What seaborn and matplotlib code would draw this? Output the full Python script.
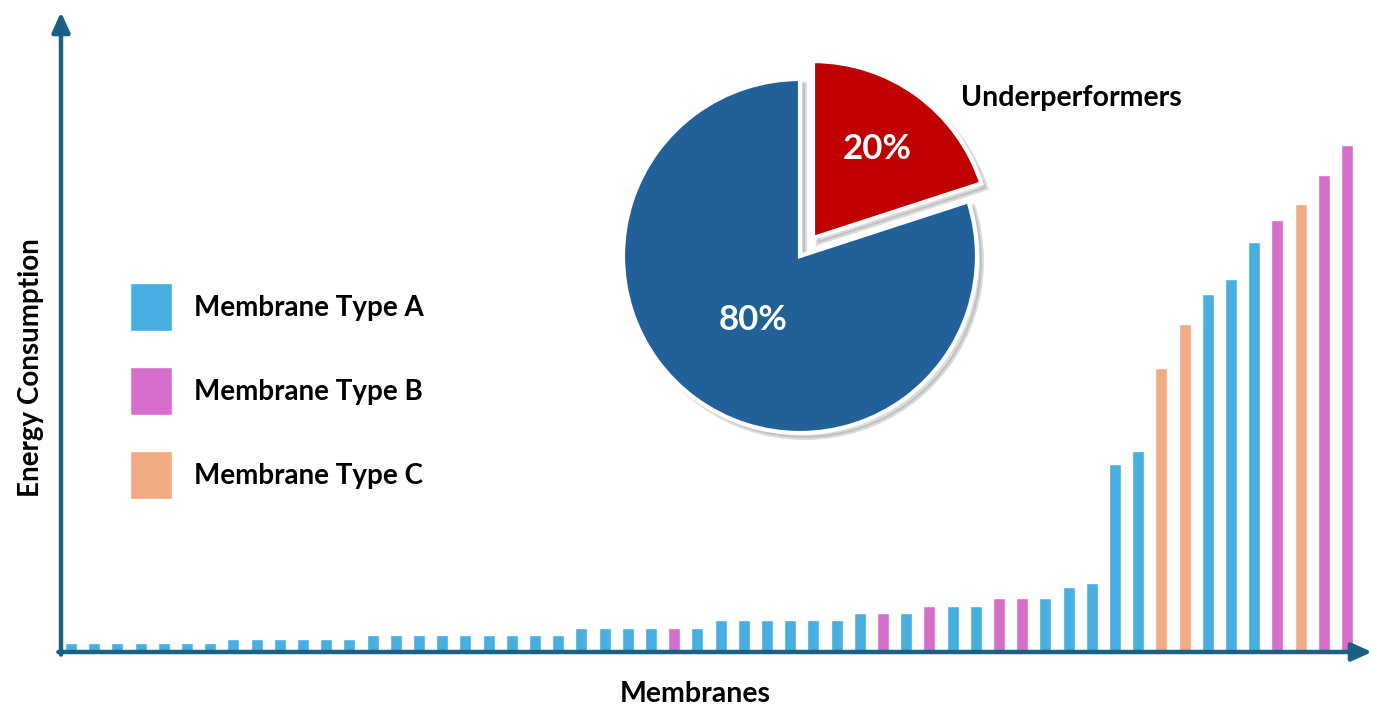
import matplotlib.pyplot as plt
import numpy as np
import pandas as pd
import seaborn as sns

# bar heights (energy consumption, arbitrary units) per membrane, sorted
heights = [
    9, 9, 9, 9, 9, 9, 9,
    13, 13, 13, 13, 13, 13,
    17, 17, 17, 17, 17, 17, 17, 17, 17,
    24, 24, 24, 24, 24, 24,
    32, 32, 32, 32, 32, 32,
    39, 39, 39,
    46, 46, 46,
    54, 54, 54,
    65, 69,
    188, 201, 284, 328, 358, 373, 410, 432, 448, 477, 507,
]
types = [
    "A", "A", "A", "A", "A", "A", "A",
    "A", "A", "A", "A", "A", "A",
    "A", "A", "A", "A", "A", "A", "A", "A", "A",
    "A", "A", "A", "A", "B", "A",
    "A", "A", "A", "A", "A", "A",
    "A", "B", "A",
    "B", "A", "A",
    "B", "B", "A",
    "A", "A",
    "A", "A", "C", "C", "A", "A", "A", "B", "C", "B", "B",
]
type_labels = {"A": "Membrane Type A", "B": "Membrane Type B", "C": "Membrane Type C"}
pie_values = [20, 80]
pie_labels = ["Underperformers", "Others"]

AXIS_COLOR = "#1B6185"
PALETTE = {"Membrane Type A": "#47B0E0", "Membrane Type B": "#D66FCB", "Membrane Type C": "#F1AB85"}
FONT = ["Lato", "DejaVu Sans"]

sns.set_theme(style="white")
plt.rcParams["font.family"] = FONT

data = pd.DataFrame({
    "membrane": [str(i) for i in range(len(heights))],
    "energy": heights,
    "type": [type_labels[t] for t in types],
})

W, H = 1373, 707
fig = plt.figure(figsize=(W / 100, H / 100), dpi=100)
ax = fig.add_axes([61 / W, (H - 652) / H, (1372 - 61) / W, 640 / H])

sns.barplot(data=data, x="membrane", y="energy", hue="type",
            hue_order=list(PALETTE), palette=PALETTE, dodge=False,
            width=0.52, saturation=1, ax=ax)
ax.set_xlim(-0.43, 56.08)
ax.set_ylim(0, 640)
ax.set_xticks([])
ax.set_yticks([])
for s in ax.spines.values():
    s.set_visible(False)

# axis arrows
arrow = dict(arrowstyle="-|>,head_width=0.45,head_length=1.0", lw=3.2,
             color=AXIS_COLOR, mutation_scale=12, shrinkA=0, shrinkB=0)
ax.annotate("", xy=(0, 1), xytext=(0, -0.004), xycoords="axes fraction", arrowprops=arrow)
ax.annotate("", xy=(1, 0), xytext=(-0.002, 0), xycoords="axes fraction", arrowprops=arrow)

ax.set_xlabel("Membranes", fontsize=20.5, fontweight="bold", color="black")
ax.set_ylabel("Energy Consumption", fontsize=20, fontweight="bold", color="black")
ax.xaxis.set_label_coords(0.4835, -0.045)
ax.yaxis.set_label_coords(-0.013, 0.444)

sns.move_legend(ax, "upper left", bbox_to_anchor=(130 / W, (H - 283) / H),
                bbox_transform=fig.transFigure, title=None, frameon=False,
                fontsize=20, handlelength=1.51, handleheight=2.28,
                handletextpad=0.8, labelspacing=1.3, borderpad=0, borderaxespad=0)
for t in ax.get_legend().get_texts():
    t.set_fontweight("bold")
    t.set_color("black")

# inset pie
R = 177
half = 1.25 * R
pax = fig.add_axes([(800 - half) / W, (H - 256 - half) / H, 2 * half / W, 2 * half / H])
wedges, texts, autotexts = pax.pie(
    pie_values, colors=["#C00000", "#22609A"], startangle=90, counterclock=False,
    explode=[0.125, 0], autopct="%d%%", pctdistance=0.5,
    wedgeprops=dict(edgecolor="white", linewidth=3),
    shadow=dict(ox=0.02, oy=-0.02, facecolor="#888888", edgecolor="#888888", alpha=0.3),
    textprops=dict(color="white", fontsize=25, fontweight="bold"),
)
pax.set_xlim(-1.25, 1.25)
pax.set_ylim(-1.25, 1.25)
for w, t, d in zip(wedges, autotexts, [0.62, 0.45]):
    ang = np.deg2rad((w.theta1 + w.theta2) / 2)
    cx, cy = w.center
    t.set_position((cx + d * np.cos(ang), cy + d * np.sin(ang)))

pax.text(0.91, 0.895, pie_labels[0], fontsize=20.5, fontweight="bold", color="black",
         va="center", ha="left")

fig.savefig("out.png", dpi=100)
